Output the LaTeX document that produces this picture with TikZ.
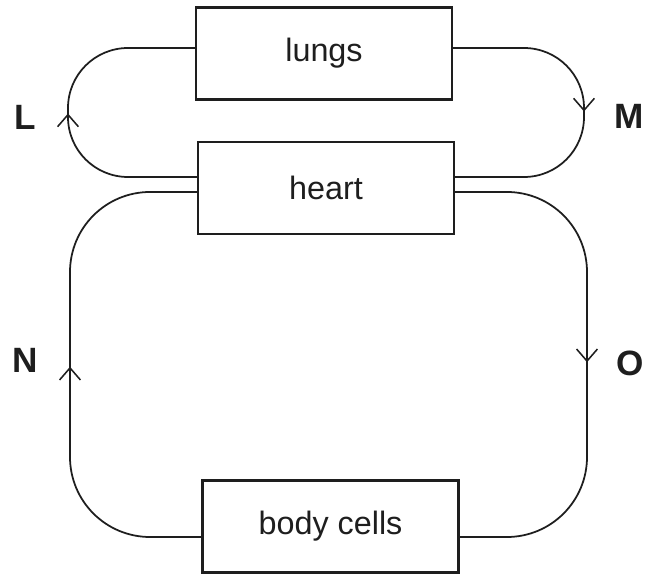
\documentclass[tikz,border=0pt]{standalone}
\usepackage{fontspec}
\setmainfont{Liberation Sans}
\usetikzlibrary{arrows.meta,decorations.markings}

\definecolor{InkColor}{HTML}{1E1E1E}

\begin{document}
\begin{tikzpicture}[x=0.025cm,y=-0.025cm,
    organ/.style={draw=InkColor,line width=1.6pt,minimum width=6.4cm,
      minimum height=2.3cm,inner sep=0pt,
      font=\fontsize{23}{28}\selectfont,text=InkColor},
    vessel/.style={draw=InkColor,line width=1.25pt,
      postaction={decorate},
      decoration={markings,mark=at position 0.5 with
        {\arrow{Straight Barb[length=3mm,width=5.2mm,line width=1.1pt]}}}},
    letter/.style={font=\fontsize{25}{30}\selectfont\bfseries,text=InkColor}]

  %–– Margen de la figura ––
  \useasboundingbox (0,0) rectangle (646,576);

  %–– Columnas de los circuitos ––
  \def\xL{68}
  \def\xM{584}
  \def\xN{70}
  \def\xO{587}

  %–– Órganos ––
  \node[organ] (lungs) at (324,53.5) {lungs};
  \node[organ] (heart) at (326,188) {heart};
  \node[organ] (bodycells) at (330.5,526.5) {body cells};

  %–– Circuito pulmonar ––
  \draw[vessel,rounded corners=1.5cm]
    ([yshift=0.275cm]heart.west) -- (\xL,177) -- (\xL,48) -- ([yshift=0.1375cm]lungs.west);
  \draw[vessel,rounded corners=1.5cm]
    ([yshift=0.1375cm]lungs.east) -- (\xM,48) -- (\xM,177) -- ([yshift=0.275cm]heart.east);

  %–– Circuito sistémico ––
  \draw[vessel,rounded corners=2cm]
    ([yshift=-0.1cm]heart.east) -- (\xO,192) -- (\xO,537) -- ([yshift=-0.2625cm]bodycells.east);
  \draw[vessel,rounded corners=2cm]
    ([yshift=-0.2625cm]bodycells.west) -- (\xN,537) -- (\xN,192) -- ([yshift=-0.1cm]heart.west);

  %–– Letras ––
  \node[letter] (lblL) at (25,117) {L};
  \node[letter] (lblM) at (629,116) {M};
  \node[letter] (lblN) at (25,360) {N};
  \node[letter] (lblO) at (630,363) {O};

\end{tikzpicture}
\end{document}
